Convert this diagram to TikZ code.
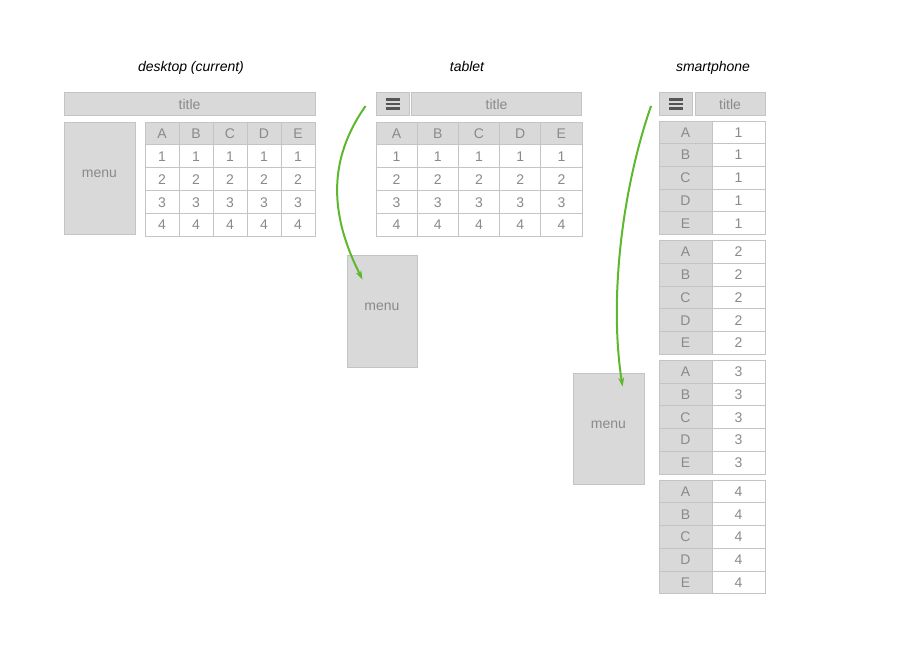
\documentclass[tikz,border=0pt]{standalone}
\usepackage{fontspec}
\setmainfont{Liberation Sans}
\usepackage{tikz}
\usetikzlibrary{arrows.meta}

\definecolor{boxfill}{RGB}{217,217,217}
\definecolor{boxline}{RGB}{196,196,196}
\definecolor{boxtext}{RGB}{138,138,138}
\definecolor{burgerc}{RGB}{85,85,85}
\definecolor{flowc}{RGB}{94,184,46}

\tikzset{
  box/.style={draw=boxline, fill=boxfill, line width=0.9pt, text=boxtext,
    inner sep=0pt, font=\fontsize{14}{16}\selectfont},
  cellbox/.style={box, fill=white},
  menubox/.style={box, text depth=8pt},
  burger/.style={draw=burgerc, line width=2.5pt},
  flow/.style={draw=flowc, line width=2pt, -{Stealth[length=9pt,width=6pt]}},
  heading/.style={anchor=base, font=\fontsize{14}{16}\selectfont\itshape}
}

\begin{document}
\begin{tikzpicture}[x=1pt,y=-1pt]
    \useasboundingbox (0,0) rectangle (900,650);

    % Headings
    \node[heading] (dhead) at (191,72) {desktop (current)};
    \node[heading] (thead) at (467,72) {tablet};
    \node[heading] (phead) at (713,72) {smartphone};

    % Desktop
    \node[box, minimum width=251pt, minimum height=23pt] (dtitle) at (189.5,104) {title};
    \node[menubox, minimum width=71pt, minimum height=112pt] (dmenu) at (99.5,178) {menu};
    \foreach \c [count=\i from 0] in {A,B,C,D,E} {
        \node[box, minimum width=34pt, minimum height=22.9pt] (dh\c) at ({162+34*\i},133.5) {\c};
        \foreach \r in {1,...,4}
            \node[cellbox, minimum width=34pt, minimum height=22.9pt] (d\c\r) at ({162+34*\i},{133.5+22.9*\r}) {\r};
    }

    % Tablet
    \node[box, minimum width=33pt, minimum height=23pt] (tham) at (392.5,104) {};
    \foreach \dy in {-4.5,0,4.5}
        \draw[burger] ([xshift=-7pt,yshift=\dy pt]tham.center) -- ++(14,0);
    \node[box, minimum width=170pt, minimum height=23pt] (ttitle) at (496.5,104) {title};
    \foreach \c [count=\i from 0] in {A,B,C,D,E} {
        \node[box, minimum width=41.2pt, minimum height=22.9pt] (th\c) at ({396.6+41.2*\i},133.5) {\c};
        \foreach \r in {1,...,4}
            \node[cellbox, minimum width=41.2pt, minimum height=22.9pt] (t\c\r) at ({396.6+41.2*\i},{133.5+22.9*\r}) {\r};
    }
    \node[menubox, minimum width=70pt, minimum height=112pt] (tmenu) at (382,311) {menu};

    % Smartphone
    \node[box, minimum width=33pt, minimum height=23pt] (pham) at (676,104) {};
    \foreach \dy in {-4.5,0,4.5}
        \draw[burger] ([xshift=-7pt,yshift=\dy pt]pham.center) -- ++(14,0);
    \node[box, minimum width=70pt, minimum height=23pt] (ptitle) at (730,104) {title};
    \foreach \r in {1,...,4} {
        \foreach \c [count=\i from 0] in {A,B,C,D,E} {
            \node[box, minimum width=53pt, minimum height=22.7pt] (ph\c\r) at (685.5,{132.4+119.7*(\r-1)+22.7*\i}) {\c};
            \node[cellbox, minimum width=53pt, minimum height=22.7pt] (p\c\r) at (738.5,{132.4+119.7*(\r-1)+22.7*\i}) {\r};
        }
    }
    \node[menubox, minimum width=71pt, minimum height=111pt] (pmenu) at (608.5,428.5) {menu};

    % Menu moves behind the button
    \draw[flow] ([xshift=-10pt,yshift=-2pt]tham.west) .. controls +(-38,54) and +(-33,-65) .. ([xshift=16pt,yshift=-25pt]tmenu.north west);
    \draw[flow] ([xshift=-8pt,yshift=-2pt]pham.west) .. controls +(-28,80) and +(-14,-90) .. ([xshift=50pt,yshift=-14pt]pmenu.north west);
\end{tikzpicture}
\end{document}
